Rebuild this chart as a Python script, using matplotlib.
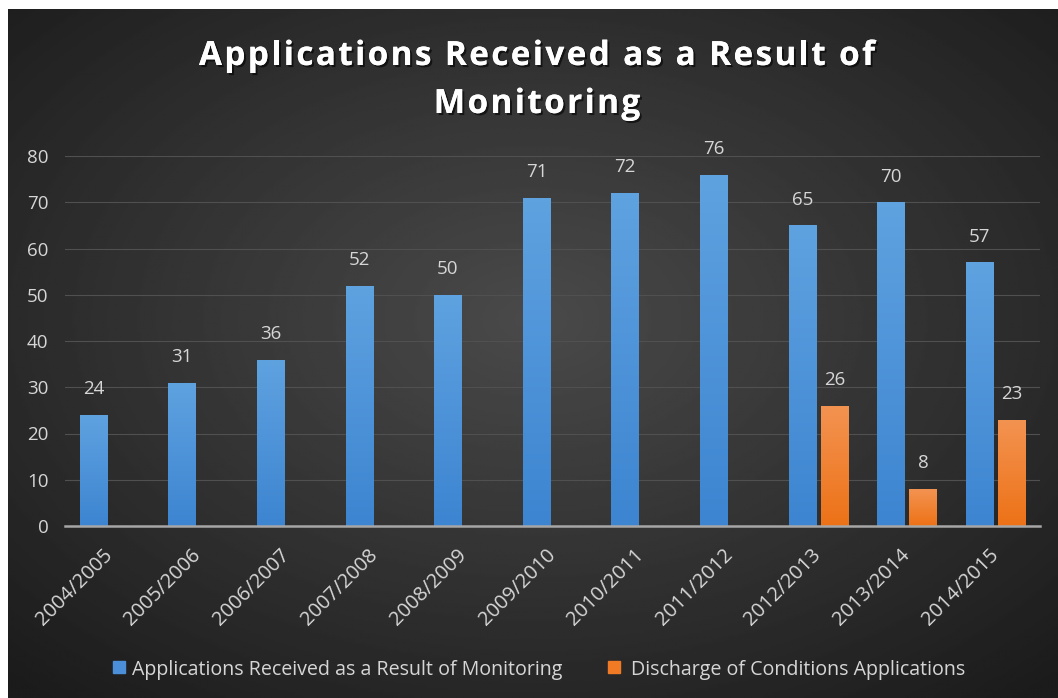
import matplotlib.pyplot as plt
import numpy as np
from matplotlib.patches import Rectangle
from matplotlib.colors import LinearSegmentedColormap
from matplotlib.font_manager import FontProperties, findfont
from matplotlib.ft2font import FT2Font
import matplotlib.transforms as mtransforms
import matplotlib.patheffects as pe

plt.rcParams["font.family"] = ["Open Sans", "DejaVu Sans"]

years = ["2004/2005", "2005/2006", "2006/2007", "2007/2008", "2008/2009", "2009/2010",
         "2010/2011", "2011/2012", "2012/2013", "2013/2014", "2014/2015"]
monitoring = [24, 31, 36, 52, 50, 71, 72, 76, 65, 70, 57]
discharge = [None, None, None, None, None, None, None, None, 26, 8, 23]
title_lines = ["Applications Received as a Result of", "Monitoring"]

BLUE = "#4b8fd8"
ORANGE = "#f07b24"
BLUE_GRAD = ["#3d85d1", "#5fa2e0"]
ORANGE_GRAD = ["#ed7217", "#f39351"]
TEXT = "#d6d6d6"
W, H = 1058, 698


def fit_width(fig, txt, width_px):
    # scale font size so the text spans the wanted pixel width
    r = fig.canvas.get_renderer()
    cur = txt.get_window_extent(r).width
    txt.set_fontsize(txt.get_fontsize() * width_px / cur)


def advances(s, prop):
    font = FT2Font(findfont(prop))
    font.set_size(prop.get_size_in_points(), 72)
    return [font.load_char(ord(c)).linearHoriAdvance / 65536 for c in s]


def tracked_text(fig, xc, y, s, prop, track_pt, **kw):
    # draw characters one by one with extra letter spacing, centred on xc
    adv = advances(s, prop)
    total = sum(adv) + track_pt * (len(s) - 1)
    pos = -total / 2
    for ch, a in zip(s, adv):
        tr = fig.transFigure + mtransforms.ScaledTranslation(pos / 72, 0, fig.dpi_scale_trans)
        fig.text(xc, y, ch, fontproperties=prop, ha="left", va="baseline", transform=tr, **kw)
        pos += a + track_pt


def shade_bars(ax, bars, colors):
    cmap = LinearSegmentedColormap.from_list("g", colors)
    grad = np.linspace(0, 1, 64).reshape(-1, 1)
    for b in bars:
        b.set_facecolor("none")
        x0, y0 = b.get_x(), b.get_y()
        im = ax.imshow(grad, cmap=cmap, origin="lower", aspect="auto",
                       extent=[x0, x0 + b.get_width(), y0, y0 + b.get_height()], zorder=3)
        im.set_clip_path(b)


fig = plt.figure(figsize=(W / 100, H / 100), dpi=100)
fig.patch.set_facecolor("white")

# dark radial gradient background, white strip on top and left
bg = fig.add_axes([8 / W, 0, 1 - 8 / W, 1 - 9 / H], zorder=-10)
yy, xx = np.mgrid[-1:1:300j, -1:1:450j]
r = np.sqrt((xx * 0.9) ** 2 + ((yy + 0.1) * 0.9) ** 2)
bg.imshow(0.29 - 0.14 * np.clip(r, 0, 1.3), cmap="gray", vmin=0, vmax=1,
          aspect="auto", extent=[0, 1, 0, 1])
bg.axis("off")

ax = fig.add_axes([65 / W, 1 - 526 / H, 975 / W, (526 - 156) / H])
ax.set_facecolor("none")

x = np.arange(len(years))
w = 0.31
off = 0.18
bx = x - off
bars = ax.bar(bx, monitoring, width=w, color=BLUE, zorder=3)
shade_bars(ax, bars, BLUE_GRAD)
for xi, v in zip(bx, monitoring):
    ax.annotate(str(v), (xi, v), xytext=(0, 12), textcoords="offset points",
                ha="center", va="bottom", color=TEXT, fontsize=13.5)

ox = [xi + off for xi, v in zip(x, discharge) if v is not None]
dv = [v for v in discharge if v is not None]
obars = ax.bar(ox, dv, width=w, color=ORANGE, zorder=3)
shade_bars(ax, obars, ORANGE_GRAD)
for xi, v in zip(ox, dv):
    ax.annotate(str(v), (xi, v), xytext=(0, 12), textcoords="offset points",
                ha="center", va="bottom", color=TEXT, fontsize=13.5)

ax.set_xlim(-0.5, len(years) - 0.5)
ax.set_ylim(0, 80)
ax.set_yticks(range(0, 81, 10))
ax.grid(axis="y", color="#505050", linewidth=0.8, zorder=0)
for s in ["top", "right", "left"]:
    ax.spines[s].set_visible(False)
ax.spines["bottom"].set_color("#a6a6a6")
ax.spines["bottom"].set_linewidth(1.8)
ax.spines["bottom"].set_zorder(4)
ax.tick_params(axis="both", length=0, colors=TEXT, labelsize=13.5)
ax.tick_params(axis="y", pad=12)
ax.set_xticks(x)
ax.set_xticklabels(years, rotation=45, ha="right", va="center",
                   rotation_mode="anchor", fontsize=14.5)
ax.tick_params(axis="x", pad=19)

# title with letter spacing, first line spanning ~676 px
tprop = FontProperties(family="Open Sans", weight="bold", size=24)
line1 = title_lines[0]
track = (676 * 0.72 - sum(advances(line1, tprop))) / (len(line1) - 1)
shadow = [pe.withSimplePatchShadow(offset=(1.5, -1.5), shadow_rgbFace="black", alpha=0.6),
          pe.Normal()]
for line, base in zip(title_lines, [65, 113]):
    tracked_text(fig, 537 / W, 1 - base / H, line, tprop, track,
                 color="white", path_effects=shadow)

# legend
ly = 1 - 667 / H
fig.add_artist(Rectangle((113 / W, ly - 6 / H), 12 / W, 12 / H,
                         color=BLUE, transform=fig.transFigure))
l1 = fig.text(132 / W, ly, "Applications Received as a Result of Monitoring",
              color=TEXT, fontsize=13, va="center_baseline")
fig.add_artist(Rectangle((608 / W, ly - 6 / H), 12 / W, 12 / H,
                         color=ORANGE, transform=fig.transFigure))
l2 = fig.text(631 / W, ly, "Discharge of Conditions Applications",
              color=TEXT, fontsize=13, va="center_baseline")
fit_width(fig, l1, 428)
l2.set_fontsize(l1.get_fontsize())

fig.savefig("out.png", dpi=100)
